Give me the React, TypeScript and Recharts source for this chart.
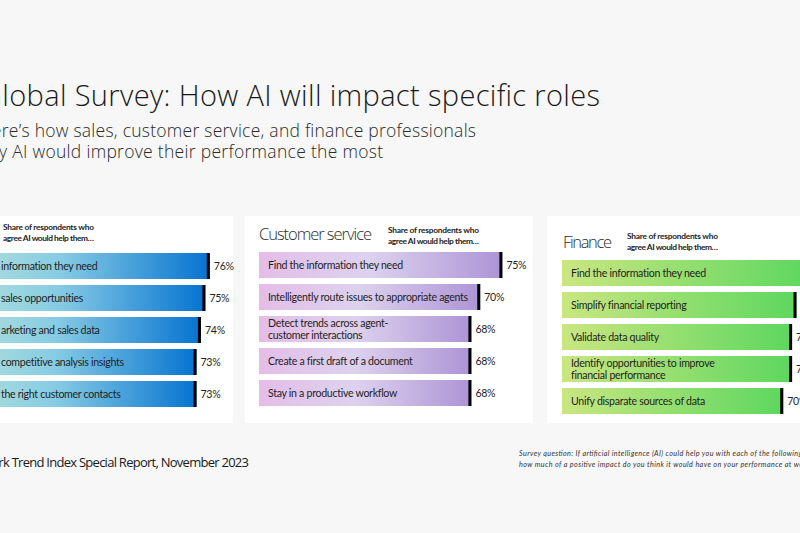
import React from "react";
import { Bar, BarChart, LabelList, XAxis, YAxis } from "recharts";

// Sales panel is cropped at the left edge of the picture, only the visible part of each label is kept
const salesTasks = [
  "information they need",
  "sales opportunities",
  "arketing and sales data",
  "competitive analysis insights",
  "the right customer contacts",
];
const salesShares = [76, 75, 74, 73, 73];

const serviceTasks = [
  "Find the information they need",
  "Intelligently route issues to appropriate agents",
  "Detect trends across agent-\ncustomer interactions",
  "Create a first draft of a document",
  "Stay in a productive workflow",
];
const serviceShares = [75, 70, 68, 68, 68];

const financeTasks = [
  "Find the information they need",
  "Simplify financial reporting",
  "Validate data quality",
  "Identify opportunities to improve\nfinancial performance",
  "Unify disparate sources of data",
];
const financeShares = [76, 73, 72, 72, 70];

const shareDomain: [number, number] = [20, 100];

const LABEL_FONT = "Lato, 'Open Sans', sans-serif";
const HEAD_FONT = "'Open Sans', sans-serif";

type Stop = [number, string];

function GradientBar(gradId: string) {
  return (props: any) => {
    const { x, y, width, height } = props;
    if (!width || width <= 0) return null;
    return (
      <g>
        <rect x={x} y={y} width={width} height={height} fill={`url(#${gradId})`} />
        <rect x={x + width - 3} y={y} width={3} height={height} fill="#000" />
      </g>
    );
  };
}

function taskLabel(fixedX?: number) {
  return (props: any) => {
    const { x, y, height, value } = props;
    const lines = String(value).split("\n");
    const tx = fixedX ?? x + 9;
    const cy = y + height / 2;
    const lh = 12.3;
    const first = cy - ((lines.length - 1) * lh) / 2;
    return (
      <text x={tx} y={first} fill="#1f1f1f" fontSize={10.6} letterSpacing={-0.3} fontFamily={LABEL_FONT}>
        {lines.map((l, i) => (
          <tspan key={i} x={tx} y={first + i * lh} dy="0.36em">
            {l}
          </tspan>
        ))}
      </text>
    );
  };
}

function Panel({
  id,
  tasks,
  shares,
  stops,
  left,
  top,
  labelX,
}: {
  id: string;
  tasks: string[];
  shares: number[];
  stops: Stop[];
  left: number;
  top: number;
  labelX?: number;
}) {
  const data = tasks.map((task, i) => ({ task, share: shares[i] }));
  return (
    <div style={{ position: "absolute", left, top }}>
      <BarChart
        width={354}
        height={160}
        data={data}
        layout="vertical"
        margin={{ top: 0, right: 0, bottom: 0, left: 0 }}
      >
        <defs>
          <linearGradient id={id} x1="0" y1="0" x2="1" y2="0">
            {stops.map(([o, c]) => (
              <stop key={o} offset={`${o * 100}%`} stopColor={c} />
            ))}
          </linearGradient>
        </defs>
        <XAxis type="number" domain={shareDomain} hide allowDataOverflow />
        <YAxis type="category" dataKey="task" hide />
        <Bar dataKey="share" barSize={26} shape={GradientBar(id)} isAnimationActive={false}>
          <LabelList dataKey="task" content={taskLabel(labelX)} />
          <LabelList
            dataKey="share"
            position="right"
            offset={4}
            formatter={(v: any) => `${v}%`}
            style={{ fill: "#1f1f1f", fontSize: 10.6, letterSpacing: -0.3, fontFamily: LABEL_FONT }}
          />
        </Bar>
      </BarChart>
    </div>
  );
}

const card: React.CSSProperties = { position: "absolute", background: "#ffffff", top: 216, height: 207 };

export default function App() {
  return (
    <div
      style={{
        position: "fixed",
        left: 0,
        top: 0,
        width: 800,
        height: 533,
        overflow: "hidden",
        background: "#f7f7f7",
      }}
    >
      <div style={{ ...card, left: -20, width: 253 }} />
      <div style={{ ...card, left: 245, width: 288 }} />
      <div style={{ ...card, left: 547, width: 300 }} />

      <svg width={800} height={533} style={{ position: "absolute", left: 0, top: 0 }}>
        <text x={-19} y={106} fontSize={29} fontWeight={300} fill="#1a1a1a" fontFamily={HEAD_FONT} textLength={619}>
          Global Survey: How AI will impact specific roles
        </text>
        <text x={-21} y={137} fontSize={17.5} fontWeight={300} fill="#2a2a2a" fontFamily={HEAD_FONT} textLength={497}>
          Here’s how sales, customer service, and finance professionals
        </text>
        <text x={-19} y={158} fontSize={17.5} fontWeight={300} fill="#2a2a2a" fontFamily={HEAD_FONT} textLength={402}>
          say AI would improve their performance the most
        </text>

        <text x={259} y={240} fontSize={16.5} fontWeight={300} fill="#2a2a2a" fontFamily={HEAD_FONT} textLength={113}>
          Customer service
        </text>
        <text x={563} y={248} fontSize={16.5} fontWeight={300} fill="#2a2a2a" fontFamily={HEAD_FONT} textLength={49}>
          Finance
        </text>

        {[
          [3, 230],
          [388, 233],
          [627, 239],
        ].map(([x, y]) => (
          <text key={x} x={x} fontSize={8.4} fontWeight={700} fill="#222" fontFamily={LABEL_FONT}>
            <tspan x={x} y={y} textLength={91}>Share of respondents who</tspan>
            <tspan x={x} y={y + 11} textLength={91}>agree AI would help them…</tspan>
          </text>
        ))}

        <text x={-20} y={467} fontSize={13} fill="#1a1a1a" fontFamily={HEAD_FONT} textLength={269}>
          Work Trend Index Special Report, November 2023
        </text>
        <text x={519} y={456} fontSize={7.2} fontStyle="italic" fill="#333" fontFamily={LABEL_FONT} textLength={283}>
          Survey question: If artificial intelligence (AI) could help you with each of the following
        </text>
        <text x={519} y={467} fontSize={7.2} fontStyle="italic" fill="#333" fontFamily={LABEL_FONT} textLength={294}>
          how much of a positive impact do you think it would have on your performance at work?
        </text>
      </svg>

      <Panel
        id="salesGrad"
        tasks={salesTasks}
        shares={salesShares}
        stops={[
          [0, "#b3e0da"],
          [0.4, "#86cbe4"],
          [1, "#0673d0"],
        ]}
        left={-38}
        top={250}
        labelX={39}
      />
      <Panel
        id="serviceGrad"
        tasks={serviceTasks}
        shares={serviceShares}
        stops={[
          [0, "#e4bde7"],
          [0.45, "#ddd2ee"],
          [1, "#ad94d6"],
        ]}
        left={259}
        top={249}
      />
      <Panel
        id="financeGrad"
        tasks={financeTasks}
        shares={financeShares}
        stops={[
          [0, "#cae681"],
          [1, "#5dd75f"],
        ]}
        left={562}
        top={257}
      />
    </div>
  );
}
